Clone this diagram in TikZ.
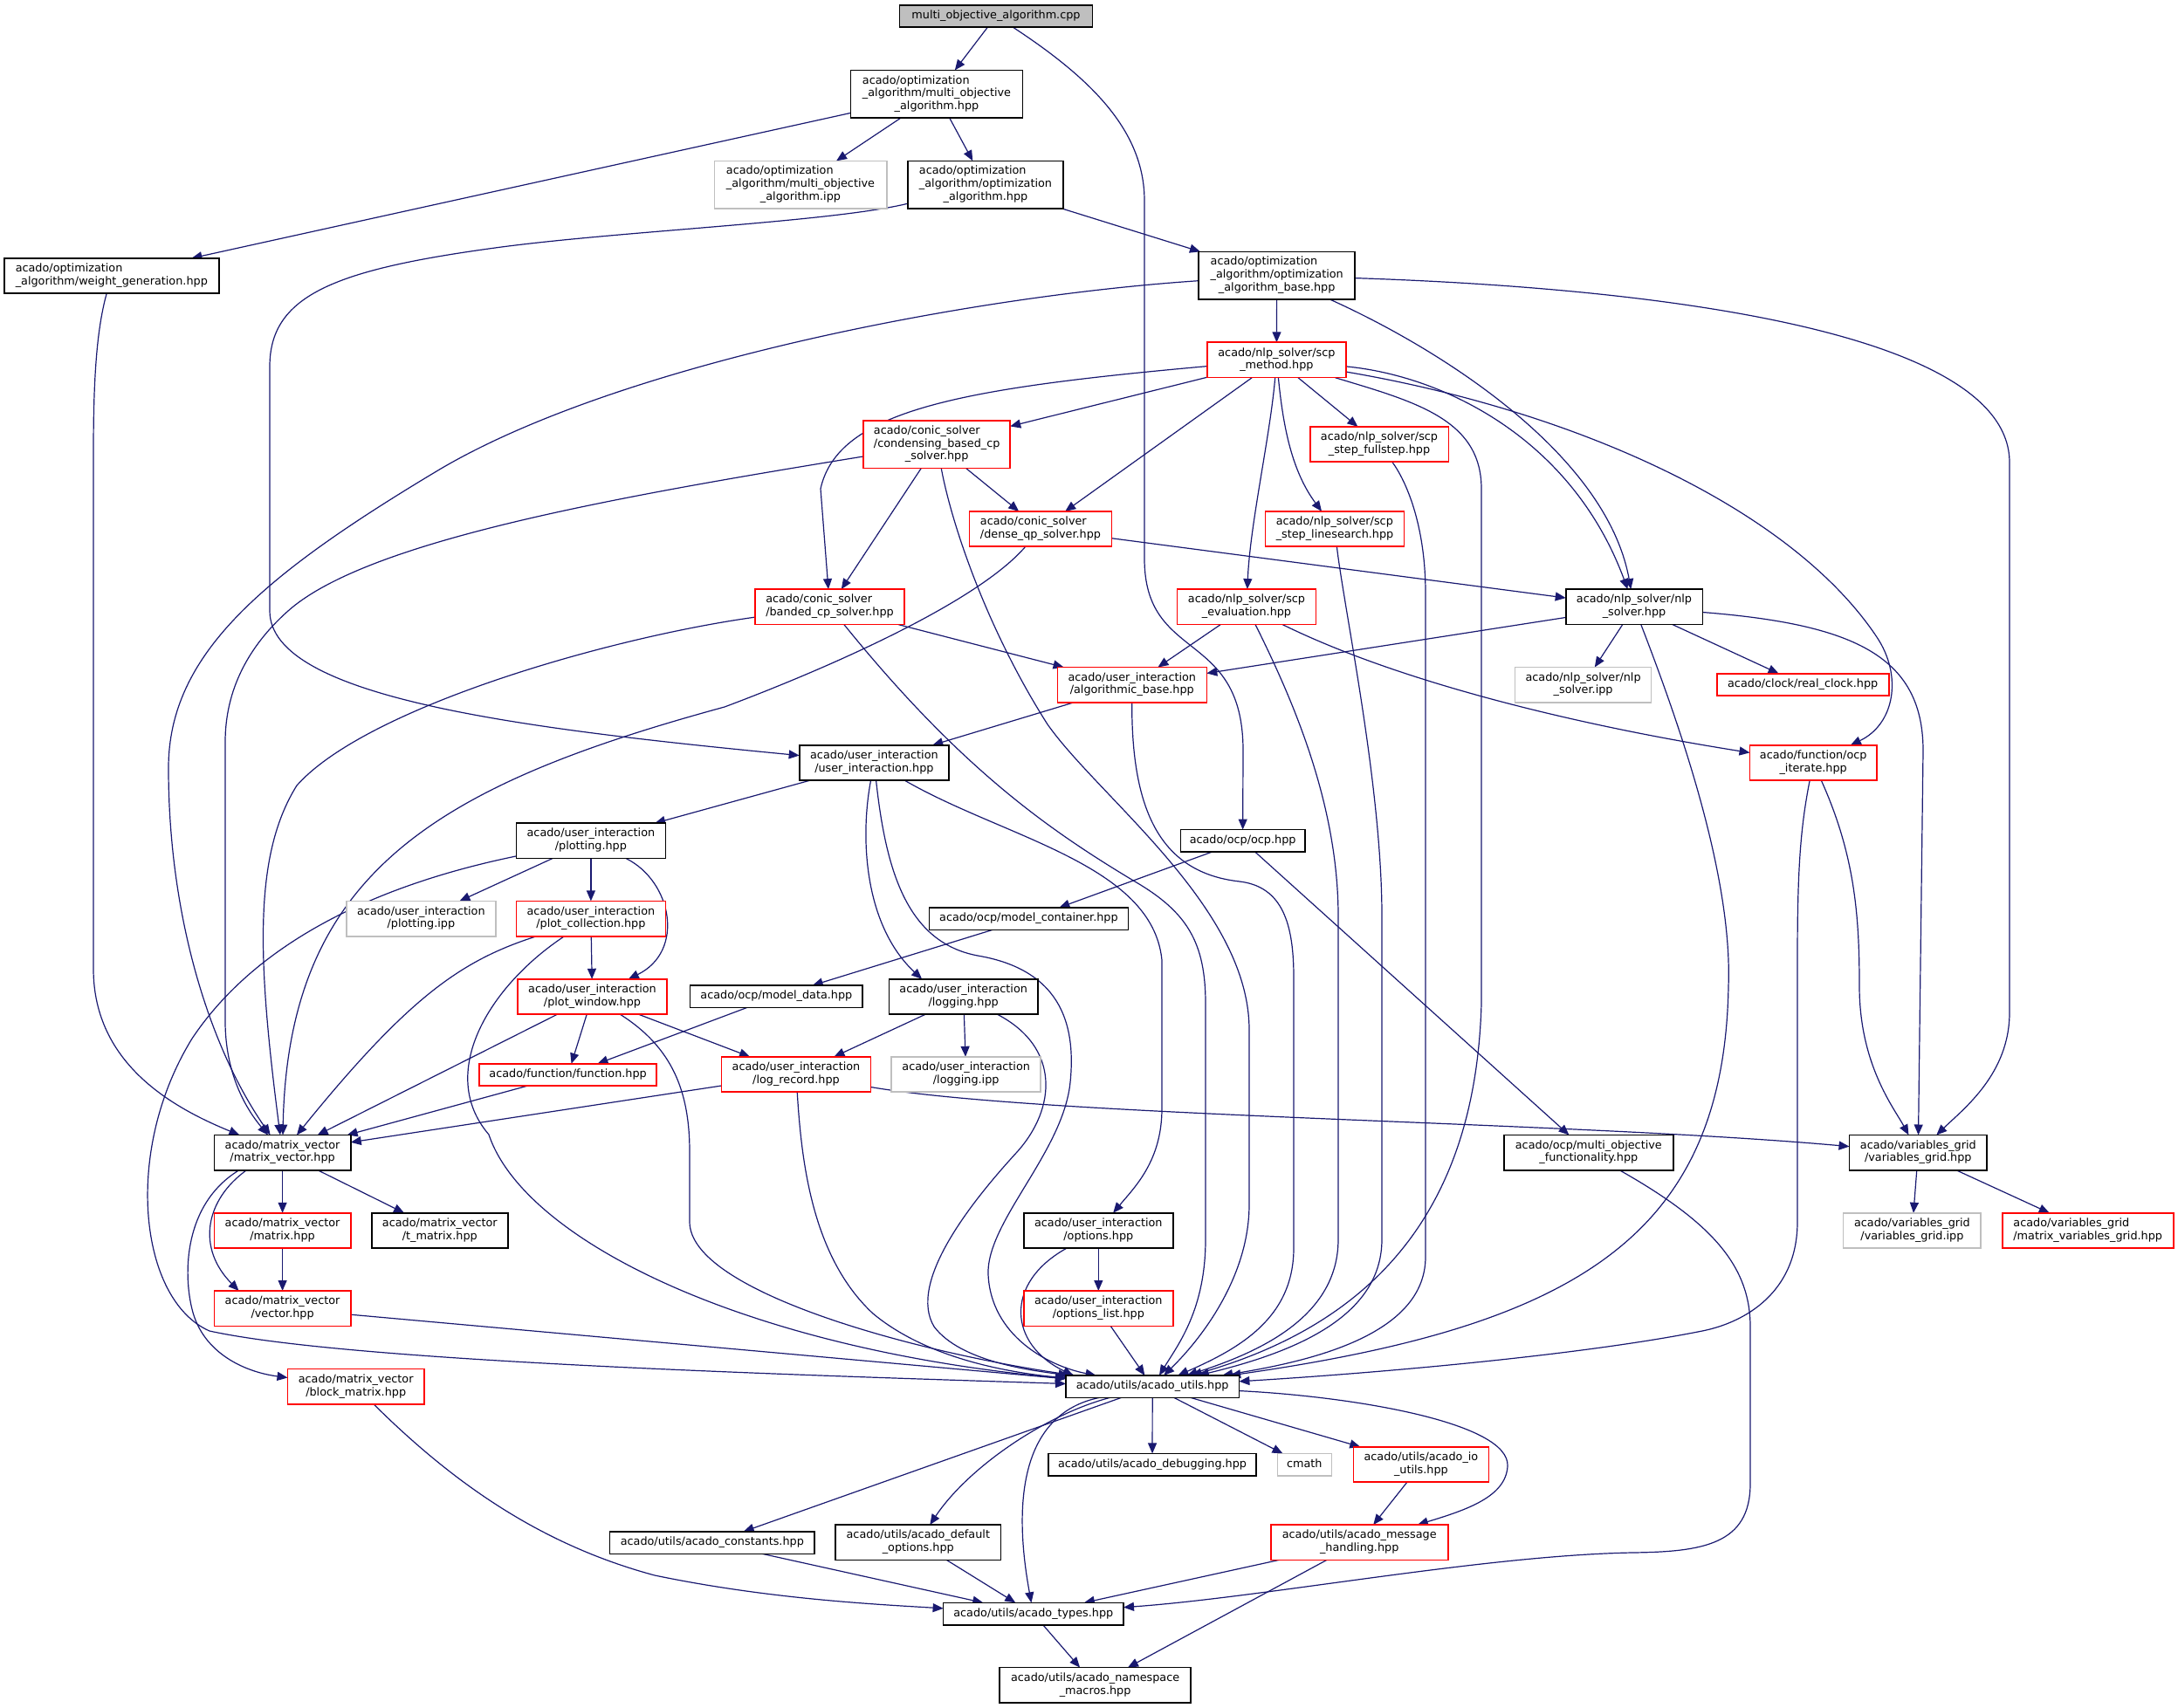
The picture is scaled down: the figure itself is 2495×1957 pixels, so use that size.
\documentclass[tikz,border=0pt]{standalone}
\usepackage{fontspec}
\setmainfont{DejaVu Sans}
\usetikzlibrary{arrows.meta}
\definecolor{edgeblue}{RGB}{25,25,112}
\definecolor{boxgray}{RGB}{191,191,191}
\pgfdeclarelayer{edges}
\pgfsetlayers{edges,main}
\newcommand{\ltwo}[2]{\begin{tabular}{@{}l@{}}#1\\\multicolumn{1}{@{}c@{}}{#2}\end{tabular}}
\newcommand{\lthree}[3]{\begin{tabular}{@{}l@{}}#1\\#2\\\multicolumn{1}{@{}c@{}}{#3}\end{tabular}}

\begin{document}
\begin{tikzpicture}[x=0.5pt,y=-0.5pt,
  hdr/.style={draw=black,fill=white,line width=0.8pt,inner xsep=2pt,inner ysep=0pt,outer sep=0pt,font=\fontsize{6.4pt}{7.35pt}\selectfont},
  redhdr/.style={hdr,draw=red},
  ipphdr/.style={hdr,draw=boxgray},
  roothdr/.style={hdr,fill=boxgray},
  oneline/.style={minimum height=12.75pt,text height=5.15pt,text depth=2.2pt},
  twoline/.style={minimum height=20.2pt},
  threeline/.style={minimum height=27.35pt},
  dep/.style={edgeblue,line width=0.6pt,-{Triangle[length=6pt,width=5pt]}}]
\useasboundingbox (0,0) rectangle (2495,1957);

\node[roothdr,oneline,minimum width=110.5pt] (cpp) at (1141,18.5) {multi\_objective\_algorithm.cpp};
\node[hdr,threeline,minimum width=98.5pt] (moa) at (1073,107.8) {\lthree{acado/optimization}{\_algorithm/multi\_objective}{\_algorithm.hpp}};
\node[ipphdr,threeline,minimum width=98.7pt] (moaipp) at (917,211.7) {\lthree{acado/optimization}{\_algorithm/multi\_objective}{\_algorithm.ipp}};
\node[hdr,threeline,minimum width=89.2pt] (oa) at (1129,211.7) {\lthree{acado/optimization}{\_algorithm/optimization}{\_algorithm.hpp}};
\node[hdr,twoline,minimum width=123pt] (wg) at (127.8,316.1) {\ltwo{acado/optimization}{\_algorithm/weight\_generation.hpp}};
\node[hdr,threeline,minimum width=89.5pt] (oab) at (1462.7,315.7) {\lthree{acado/optimization}{\_algorithm/optimization}{\_algorithm\_base.hpp}};
\node[redhdr,twoline,minimum width=79.5pt] (scp) at (1462.4,412.5) {\ltwo{acado/nlp\_solver/scp}{\_method.hpp}};
\node[redhdr,threeline,minimum width=84pt] (cond) at (1073.2,509.3) {\lthree{acado/conic\_solver}{/condensing\_based\_cp}{\_solver.hpp}};
\node[redhdr,twoline,minimum width=79.3pt] (full) at (1580,509.1) {\ltwo{acado/nlp\_solver/scp}{\_step\_fullstep.hpp}};
\node[redhdr,twoline,minimum width=81.5pt] (dense) at (1192,606.1) {\ltwo{acado/conic\_solver}{/dense\_qp\_solver.hpp}};
\node[redhdr,twoline,minimum width=79.5pt] (lines) at (1529,606.1) {\ltwo{acado/nlp\_solver/scp}{\_step\_linesearch.hpp}};
\node[redhdr,twoline,minimum width=85.7pt] (banded) at (950.5,695.3) {\ltwo{acado/conic\_solver}{/banded\_cp\_solver.hpp}};
\node[redhdr,twoline,minimum width=79.5pt] (eval) at (1428,695.3) {\ltwo{acado/nlp\_solver/scp}{\_evaluation.hpp}};
\node[hdr,twoline,minimum width=78.3pt] (ns) at (1872,695.3) {\ltwo{acado/nlp\_solver/nlp}{\_solver.hpp}};
\node[redhdr,twoline,minimum width=85.5pt] (ab) at (1296.8,784.7) {\ltwo{acado/user\_interaction}{/algorithmic\_base.hpp}};
\node[ipphdr,twoline,minimum width=78pt] (nsipp) at (1813.6,784.7) {\ltwo{acado/nlp\_solver/nlp}{\_solver.ipp}};
\node[redhdr,oneline,minimum width=98.5pt] (clock) at (2065.2,784.5) {acado/clock/real\_clock.hpp};
\node[hdr,twoline,minimum width=85.7pt] (ui) at (1001.4,873.9) {\ltwo{acado/user\_interaction}{/user\_interaction.hpp}};
\node[redhdr,twoline,minimum width=72.7pt] (iter) at (2077.2,873.9) {\ltwo{acado/function/ocp}{\_iterate.hpp}};
\node[hdr,twoline,minimum width=85.5pt] (plotting) at (676.9,963.4) {\ltwo{acado/user\_interaction}{/plotting.hpp}};
\node[hdr,oneline,minimum width=71.3pt] (ocp) at (1423.6,963.3) {acado/ocp/ocp.hpp};
\node[ipphdr,twoline,minimum width=85.5pt] (plotipp) at (482.4,1052.6) {\ltwo{acado/user\_interaction}{/plotting.ipp}};
\node[redhdr,twoline,minimum width=85.5pt] (plotcoll) at (676.9,1052.6) {\ltwo{acado/user\_interaction}{/plot\_collection.hpp}};
\node[hdr,oneline,minimum width=113.9pt] (mcont) at (1178.4,1052.6) {acado/ocp/model\_container.hpp};
\node[redhdr,twoline,minimum width=85.5pt] (plotwin) at (678.5,1142) {\ltwo{acado/user\_interaction}{/plot\_window.hpp}};
\node[hdr,oneline,minimum width=98.8pt] (mdata) at (889.4,1141.8) {acado/ocp/model\_data.hpp};
\node[hdr,twoline,minimum width=85.2pt] (logging) at (1103.7,1142) {\ltwo{acado/user\_interaction}{/logging.hpp}};
\node[redhdr,oneline,minimum width=101.5pt] (func) at (650.6,1231.5) {acado/function/function.hpp};
\node[redhdr,twoline,minimum width=85.5pt] (logrec) at (912,1231) {\ltwo{acado/user\_interaction}{/log\_record.hpp}};
\node[ipphdr,twoline,minimum width=85.5pt] (logipp) at (1106.7,1231) {\ltwo{acado/user\_interaction}{/logging.ipp}};
\node[hdr,twoline,minimum width=78.2pt] (mv) at (323.6,1320.7) {\ltwo{acado/matrix\_vector}{/matrix\_vector.hpp}};
\node[hdr,twoline,minimum width=97pt] (mof) at (1819.8,1320.7) {\ltwo{acado/ocp/multi\_objective}{\_functionality.hpp}};
\node[hdr,twoline,minimum width=78.8pt] (vg) at (2197.3,1320.7) {\ltwo{acado/variables\_grid}{/variables\_grid.hpp}};
\node[redhdr,twoline,minimum width=78.2pt] (matrix) at (323.6,1410) {\ltwo{acado/matrix\_vector}{/matrix.hpp}};
\node[hdr,twoline,minimum width=78pt] (tmatrix) at (503.8,1410) {\ltwo{acado/matrix\_vector}{/t\_matrix.hpp}};
\node[hdr,twoline,minimum width=85.5pt] (options) at (1258.3,1410) {\ltwo{acado/user\_interaction}{/options.hpp}};
\node[ipphdr,twoline,minimum width=78.8pt] (vgipp) at (2190.4,1410) {\ltwo{acado/variables\_grid}{/variables\_grid.ipp}};
\node[redhdr,twoline,minimum width=98pt] (mvg) at (2391.7,1410) {\ltwo{acado/variables\_grid}{/matrix\_variables\_grid.hpp}};
\node[redhdr,twoline,minimum width=78.2pt] (vector) at (323.6,1499.2) {\ltwo{acado/matrix\_vector}{/vector.hpp}};
\node[redhdr,twoline,minimum width=85.5pt] (optlist) at (1258.3,1499.2) {\ltwo{acado/user\_interaction}{/options\_list.hpp}};
\node[hdr,oneline,minimum width=99.2pt] (au) at (1320.2,1588.7) {acado/utils/acado\_utils.hpp};
\node[redhdr,twoline,minimum width=78.2pt] (block) at (407.7,1588.7) {\ltwo{acado/matrix\_vector}{/block\_matrix.hpp}};
\node[hdr,oneline,minimum width=119.2pt] (debug) at (1320,1678.2) {acado/utils/acado\_debugging.hpp};
\node[ipphdr,oneline,minimum width=31pt] (cmath) at (1494.3,1678.2) {cmath};
\node[redhdr,twoline,minimum width=77.4pt] (io) at (1627.9,1678) {\ltwo{acado/utils/acado\_io}{\_utils.hpp}};
\node[hdr,oneline,minimum width=117.2pt] (consts) at (815.8,1767.6) {acado/utils/acado\_constants.hpp};
\node[hdr,twoline,minimum width=94.8pt] (defopt) at (1051.8,1767.2) {\ltwo{acado/utils/acado\_default}{\_options.hpp}};
\node[redhdr,twoline,minimum width=101.5pt] (msg) at (1557.2,1767.2) {\ltwo{acado/utils/acado\_message}{\_handling.hpp}};
\node[hdr,oneline,minimum width=103.2pt] (types) at (1183.8,1849.1) {acado/utils/acado\_types.hpp};
\node[hdr,twoline,minimum width=109.5pt] (macros) at (1254.6,1930.8) {\ltwo{acado/utils/acado\_namespace}{\_macros.hpp}};

\begin{pgfonlayer}{edges}
\draw[dep] (cpp) -- (moa);
\draw[dep] (cpp) .. controls (1250,90) and (1311,150) .. (1311,230) -- (1311,640) .. controls (1311,760) and (1424,720) .. (1424,860) -- (ocp);
\draw[dep] (moa) -- (wg);
\draw[dep] (moa) -- (moaipp);
\draw[dep] (moa) -- (oa);
\draw[dep] (oa) -- (oab);
\draw[dep] (oa) .. controls (950,255) and (700,265) .. (560,285) .. controls (380,310) and (309,340) .. (309,420) -- (309,700) .. controls (309,800) and (600,835) .. (ui);
\draw[dep] (wg) .. controls (110,380) and (107,440) .. (107,520) -- (107,1110) .. controls (107,1220) and (200,1270) .. (mv);
\draw[dep] (oab) -- (scp);
\draw[dep] (oab) .. controls (1100,340) and (700,420) .. (500,540) .. controls (300,660) and (193,750) .. (193,880) .. controls (193,1050) and (240,1200) .. (mv);
\draw[dep] (oab) .. controls (1650,400) and (1840,520) .. (ns);
\draw[dep] (oab) .. controls (1900,330) and (2302,380) .. (2302,530) -- (2302,1160) .. controls (2302,1230) and (2250,1270) .. (vg);
\draw[dep] (scp) -- (cond);
\draw[dep] (scp) .. controls (1100,445) and (960,470) .. (940,560) -- (banded);
\draw[dep] (scp) -- (dense);
\draw[dep] (scp) .. controls (1455,500) and (1432,600) .. (eval);
\draw[dep] (scp) -- (full);
\draw[dep] (scp) .. controls (1470,490) and (1480,540) .. (lines);
\draw[dep] (scp) .. controls (1650,430) and (1800,500) .. (ns);
\draw[dep] (scp) .. controls (1620,460) and (1697,480) .. (1697,560) -- (1697,1150) .. controls (1690,1400) and (1560,1520) .. (au);
\draw[dep] (scp) .. controls (1800,470) and (2050,580) .. (2150,730) .. controls (2180,775) and (2170,830) .. (iter);
\draw[dep] (cond) -- (dense);
\draw[dep] (cond) -- (banded);
\draw[dep] (cond) .. controls (700,570) and (420,620) .. (330,700) .. controls (285,740) and (258,790) .. (258,850) -- (258,1170) .. controls (258,1240) and (290,1280) .. (mv);
\draw[dep] (cond) .. controls (1090,600) and (1130,720) .. (1200,830) .. controls (1260,915) and (1431,1040) .. (1431,1180) -- (1431,1380) .. controls (1431,1460) and (1380,1530) .. (au);
\draw[dep] (dense) -- (ns);
\draw[dep] (dense) .. controls (1120,690) and (950,765) .. (830,810) .. controls (500,900) and (330,1000) .. (mv);
\draw[dep] (full) .. controls (1610,550) and (1633,600) .. (1633,680) -- (1633,1440) .. controls (1633,1530) and (1500,1560) .. (au);
\draw[dep] (lines) .. controls (1540,700) and (1583,900) .. (1583,1050) -- (1583,1420) .. controls (1583,1510) and (1480,1550) .. (au);
\draw[dep] (banded) -- (ab);
\draw[dep] (banded) .. controls (700,730) and (420,810) .. (340,900) .. controls (290,980) and (295,1100) .. (mv);
\draw[dep] (banded) .. controls (1100,880) and (1200,950) .. (1300,1010) .. controls (1360,1045) and (1381,1080) .. (1381,1150) -- (1381,1420) .. controls (1381,1500) and (1350,1540) .. (au);
\draw[dep] (eval) -- (ab);
\draw[dep] (eval) .. controls (1480,800) and (1533,920) .. (1533,1050) -- (1533,1420) .. controls (1533,1510) and (1440,1550) .. (au);
\draw[dep] (eval) .. controls (1600,780) and (1800,830) .. (iter);
\draw[dep] (ns) -- (ab);
\draw[dep] (ns) -- (nsipp);
\draw[dep] (ns) -- (clock);
\draw[dep] (ns) .. controls (2120,715) and (2203,750) .. (2203,860) -- (vg);
\draw[dep] (ns) .. controls (1920,820) and (1985,1000) .. (1980,1130) .. controls (1975,1420) and (1800,1520) .. (au);
\draw[dep] (ab) -- (ui);
\draw[dep] (ab) .. controls (1296,930) and (1330,1000) .. (1420,1010) .. controls (1470,1016) and (1482,1060) .. (1482,1120) -- (1482,1430) .. controls (1482,1510) and (1420,1545) .. (au);
\draw[dep] (ui) -- (plotting);
\draw[dep] (ui) .. controls (985,960) and (990,1060) .. (logging.157);
\draw[dep] (ui) .. controls (1015,1000) and (1040,1080) .. (1120,1095) .. controls (1220,1112) and (1232,1180) .. (1226,1240) .. controls (1218,1320) and (1130,1400) .. (1132,1460) .. controls (1135,1530) and (1200,1565) .. (au);
\draw[dep] (ui) .. controls (1150,960) and (1320,990) .. (1331,1100) -- (1331,1270) .. controls (1331,1330) and (1300,1360) .. (options);
\draw[dep] (plotting) -- (plotipp);
\draw[dep] (plotting) -- (plotcoll);
\draw[dep] (plotting) .. controls (770,1010) and (785,1090) .. (plotwin);
\draw[dep] (plotting) .. controls (450,1010) and (300,1070) .. (220,1190) .. controls (140,1320) and (160,1490) .. (240,1525) .. controls (400,1560) and (900,1575) .. (au);
\draw[dep] (plotcoll) -- (plotwin);
\draw[dep] (plotcoll) .. controls (530,1100) and (470,1140) .. (mv);
\draw[dep] (plotcoll) .. controls (560,1130) and (500,1230) .. (560,1300) .. controls (600,1420) and (850,1545) .. (au);
\draw[dep] (plotwin) -- (func);
\draw[dep] (plotwin) -- (logrec);
\draw[dep] (plotwin) -- (mv);
\draw[dep] (plotwin) .. controls (770,1200) and (790,1250) .. (790,1320) -- (790,1400) .. controls (790,1480) and (1050,1550) .. (au);
\draw[dep] (ocp) -- (mcont);
\draw[dep] (ocp) -- (mof);
\draw[dep] (mcont) -- (mdata);
\draw[dep] (mdata) -- (func);
\draw[dep] (logging) -- (logrec);
\draw[dep] (logging) -- (logipp);
\draw[dep] (logging) .. controls (1215,1200) and (1210,1270) .. (1165,1320) .. controls (1110,1380) and (1040,1470) .. (1070,1520) .. controls (1100,1560) and (1180,1570) .. (au);
\draw[dep] (func) -- (mv);
\draw[dep] (logrec) -- (mv);
\draw[dep] (logrec) .. controls (918,1330) and (930,1440) .. (1000,1505) .. controls (1060,1555) and (1150,1572) .. (au);
\draw[dep] (logrec) .. controls (1200,1280) and (1800,1285) .. (vg);
\draw[dep] (iter) .. controls (2125,980) and (2130,1050) .. (2130,1130) .. controls (2130,1220) and (2170,1270) .. (vg);
\draw[dep] (iter) .. controls (2062,950) and (2059,1000) .. (2059,1100) -- (2059,1400) .. controls (2059,1480) and (2000,1515) .. (1950,1525) .. controls (1800,1555) and (1550,1575) .. (au);
\draw[dep] (mof) .. controls (1960,1400) and (2005,1450) .. (2005,1520) -- (2005,1700) .. controls (2005,1770) and (1950,1778) .. (1870,1779) .. controls (1700,1782) and (1450,1830) .. (types);
\draw[dep] (vg) -- (vgipp);
\draw[dep] (vg) -- (mvg);
\draw[dep] (mv) -- (matrix);
\draw[dep] (mv) -- (tmatrix);
\draw[dep] (mv.206) .. controls (235,1375) and (225,1430) .. (vector.158);
\draw[dep] (mv.202) .. controls (210,1380) and (210,1460) .. (220,1500) .. controls (232,1550) and (280,1572) .. (block);
\draw[dep] (matrix) -- (vector);
\draw[dep] (vector) -- (au);
\draw[dep] (block) .. controls (520,1700) and (620,1770) .. (750,1805) .. controls (880,1832) and (1000,1838) .. (types);
\draw[dep] (options) -- (optlist);
\draw[dep] (options) .. controls (1150,1470) and (1155,1540) .. (au.172);
\draw[dep] (optlist) -- (au);
\draw[dep] (au) -- (debug);
\draw[dep] (au) -- (cmath);
\draw[dep] (au) -- (io);
\draw[dep] (au) .. controls (1550,1600) and (1730,1630) .. (1727,1680) .. controls (1725,1715) and (1680,1730) .. (msg);
\draw[dep] (au) -- (consts);
\draw[dep] (au) .. controls (1200,1620) and (1110,1680) .. (defopt);
\draw[dep] (au) .. controls (1170,1620) and (1160,1720) .. (types);
\draw[dep] (io) -- (msg);
\draw[dep] (consts) -- (types);
\draw[dep] (defopt) -- (types);
\draw[dep] (msg) -- (types);
\draw[dep] (msg) -- (macros);
\draw[dep] (types) -- (macros);
\end{pgfonlayer}
\end{tikzpicture}
\end{document}
